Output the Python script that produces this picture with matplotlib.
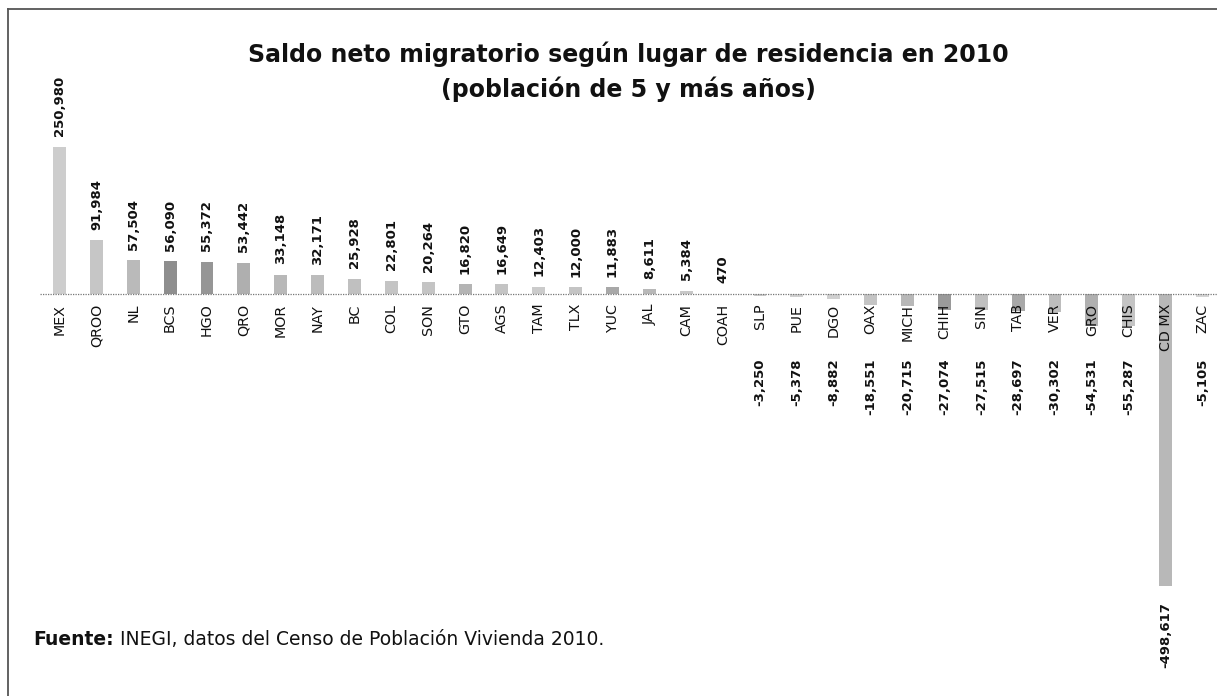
import matplotlib
matplotlib.use('Agg')
import matplotlib.pyplot as plt
from matplotlib.lines import Line2D

# Data (saldo neto migratorio, poblacion de 5 y mas anios, 2010)
estados = ['MEX', 'QROO', 'NL', 'BCS', 'HGO', 'QRO', 'MOR', 'NAY', 'BC', 'COL',
           'SON', 'GTO', 'AGS', 'TAM', 'TLX', 'YUC', 'JAL', 'CAM', 'COAH', 'SLP',
           'PUE', 'DGO', 'OAX', 'MICH', 'CHIH', 'SIN', 'TAB', 'VER', 'GRO', 'CHIS',
           'CD MX', 'ZAC']
saldo = [250980, 91984, 57504, 56090, 55372, 53442, 33148, 32171, 25928, 22801,
         20264, 16820, 16649, 12403, 12000, 11883, 8611, 5384, 470, -3250,
         -5378, -8882, -18551, -20715, -27074, -27515, -28697, -30302, -54531, -55287,
         -498617, -5105]
grises = ['#cdcdcd', '#c6c6c6', '#bababa', '#8e8e8e', '#969696', '#afafaf', '#b8b8b8',
          '#bcbcbc', '#c0c0c0', '#c4c4c4', '#c4c4c4', '#b4b4b4', '#c4c4c4', '#cbcbcb',
          '#c4c4c4', '#a8a8a8', '#b8b8b8', '#c8c8c8', '#d0d0d0', '#cccccc', '#d0d0d0',
          '#d0d0d0', '#c4c4c4', '#b8b8b8', '#9a9a9a', '#c0c0c0', '#a8a8a8', '#bdbdbd',
          '#b0b0b0', '#c4c4c4', '#b8b8b8', '#d4d4d4']

titulo = 'Saldo neto migratorio según lugar de residencia en 2010'
subtitulo = '(población de 5 y más años)'
fuente = 'INEGI, datos del Censo de Población Vivienda 2010.'

# Constants
_W, _H = 1217, 696
_BARWIDTH = 0.35
_NEG_FLOOR = -83500
_INK = '#111111'

fig = plt.figure(figsize=(_W / 100, _H / 100), dpi=100)
ax = fig.add_axes([0, 0, 1, 1])
ax.set_xlim(-1.614, 31.394)
ax.set_ylim(-685400, 501300)
ax.axis('off')

x = list(range(len(estados)))
ax.bar(x, saldo, width=_BARWIDTH, color=grises, linewidth=0)
ax.axhline(0, xmin=40 / _W, xmax=1, color='#777777', linewidth=0.9,
           linestyle=(0, (1, 1)))

for i, (lab, v) in enumerate(zip(estados, saldo)):
    ax.annotate(lab, (i, 0), xytext=(0, -7), textcoords='offset points',
                rotation=90, ha='center', va='top', fontsize=10.3,
                family='DejaVu Sans', color=_INK)
    txt = f'{v:,}'
    if v >= 0:
        ax.annotate(txt, (i, v), xytext=(0, 7.5), textcoords='offset points',
                    rotation=90, ha='center', va='bottom', fontsize=9.5,
                    fontweight='bold', family='DejaVu Sans', color=_INK)
    else:
        ax.annotate(txt, (i, min(v, _NEG_FLOOR)), xytext=(0, -11),
                    textcoords='offset points', rotation=90, ha='center',
                    va='top', fontsize=9.5, fontweight='bold',
                    family='DejaVu Sans', color=_INK)

# Title
fig.text(628 / _W, 1 - 62 / _H, titulo, ha='center', va='baseline',
         fontsize=17, fontweight='bold', family='DejaVu Sans', color=_INK)
fig.text(628 / _W, 1 - 97 / _H, subtitulo, ha='center', va='baseline',
         fontsize=17, fontweight='bold', family='DejaVu Sans', color=_INK)

# Source
t = fig.text(33 / _W, 1 - 645 / _H, 'Fuente:', ha='left', va='baseline',
             fontsize=13.5, fontweight='bold', family='DejaVu Sans', color=_INK)
ax.annotate(' ' + fuente, xy=(1, 0), xycoords=t, ha='left', va='bottom',
            fontsize=13.5, family='DejaVu Sans', color=_INK)

# Frame (left and top edges)
fig.add_artist(Line2D([8 / _W, 8 / _W], [0, 1 - 8.5 / _H], transform=fig.transFigure,
                      color='#555555', linewidth=1.3))
fig.add_artist(Line2D([8 / _W, 1], [1 - 8.5 / _H, 1 - 8.5 / _H], transform=fig.transFigure,
                      color='#555555', linewidth=1.3))

fig.savefig('out.png', dpi=100)
